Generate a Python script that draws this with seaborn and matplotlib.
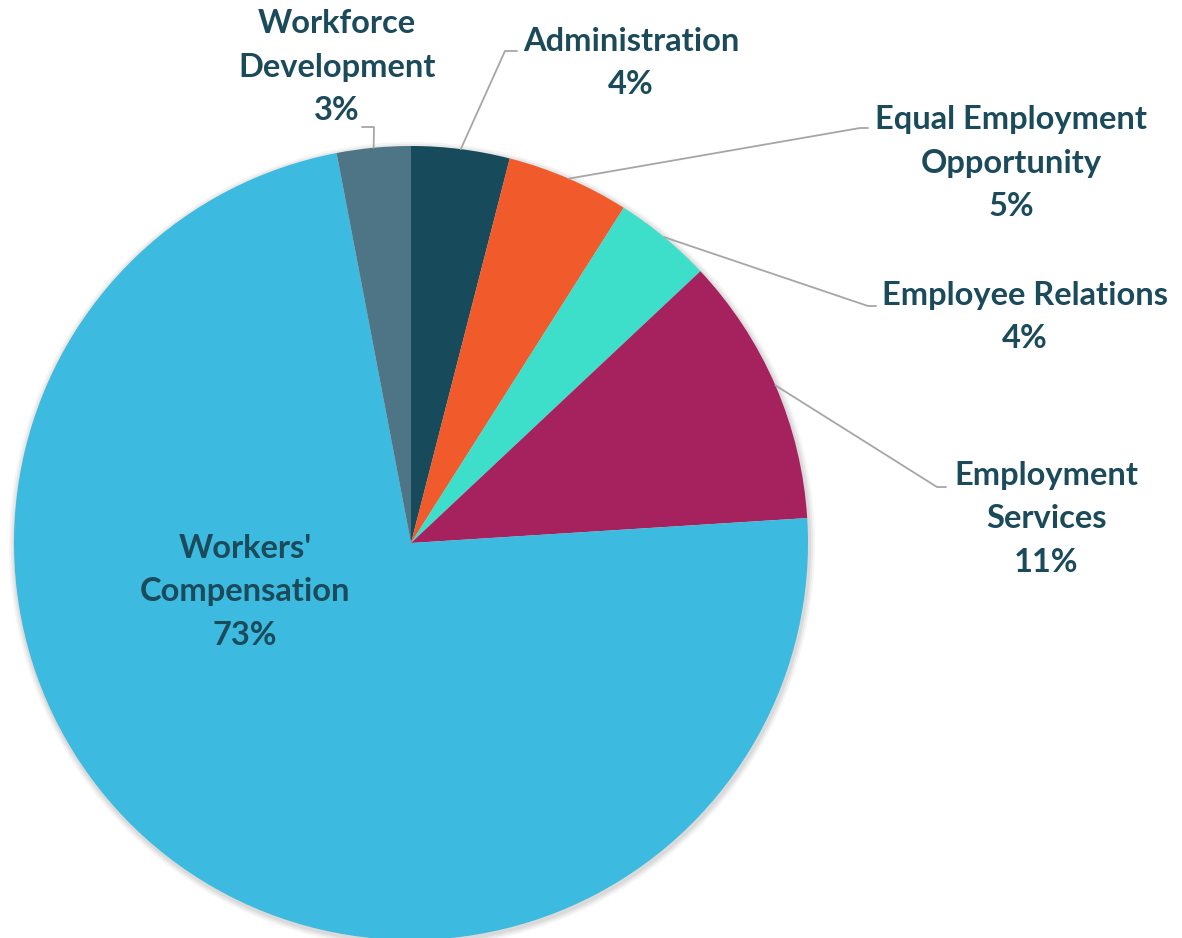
"""Pie chart of program spending share."""

import numpy as np
import matplotlib.pyplot as plt
from matplotlib.patches import Circle
import seaborn as sns

sns.set_theme(style="white")
plt.rcParams["font.family"] = ["Lato", "DejaVu Sans"]

categories = [
    "Administration",
    "Equal Employment\nOpportunity",
    "Employee Relations",
    "Employment\nServices",
    "Workers'\nCompensation",
    "Workforce\nDevelopment",
]
shares = [4, 5, 4, 11, 73, 3]
colors = ["#174A5B", "#F15A2B", "#3DDFCB", "#A6225E", "#3CBADF", "#4E7585"]

TEXT = "#1B4A5B"
CX, CY, R = 411, 395, 397

# label anchor (text center) and leader elbow, in pixel coords (y up)
label_pos = [
    ((631, 938 - 63), (505, 938 - 51), (517, 938 - 51)),
    ((1011, 938 - 163), (860, 938 - 128), (868, 938 - 128)),
    ((1025, 938 - 317), (868, 938 - 306), (876, 938 - 306)),
    ((1046, 938 - 519), (937, 938 - 487), (946, 938 - 487)),
    ((245, 938 - 592), None, None),
    ((337, 938 - 67), (374, 938 - 127), (362, 938 - 127)),
]

fig = plt.figure(figsize=(11.82, 9.38), dpi=100)
ax = fig.add_axes([0, 0, 1, 1])

# soft shadow around the pie
for k, a in zip([6, 4, 2], [0.04, 0.05, 0.06]):
    ax.add_patch(Circle((CX + 1, CY - 2), R + k, color="black", alpha=a, lw=0, zorder=0))

wedges, _ = ax.pie(
    shares,
    colors=colors,
    startangle=90,
    counterclock=False,
    center=(CX, CY),
    radius=R,
    wedgeprops=dict(linewidth=0, zorder=1),
)

for wedge, name, share, (txt, elbow, end) in zip(wedges, categories, shares, label_pos):
    ax.text(txt[0], txt[1], f"{name}\n{share}%", ha="center", va="center",
            fontsize=23.5, fontweight="bold", color=TEXT, linespacing=1.62, zorder=5)
    if elbow is None:
        continue
    mid = np.deg2rad((wedge.theta1 + wedge.theta2) / 2)
    sx, sy = CX + R * np.cos(mid), CY + R * np.sin(mid)
    ax.plot([sx, elbow[0], end[0]], [sy, elbow[1], end[1]],
            color="#A6A6A6", linewidth=1.3, zorder=4)

ax.set_xlim(0, 1182)
ax.set_ylim(0, 938)
ax.set_aspect("equal")
ax.axis("off")

fig.savefig("out.png", dpi=100)
